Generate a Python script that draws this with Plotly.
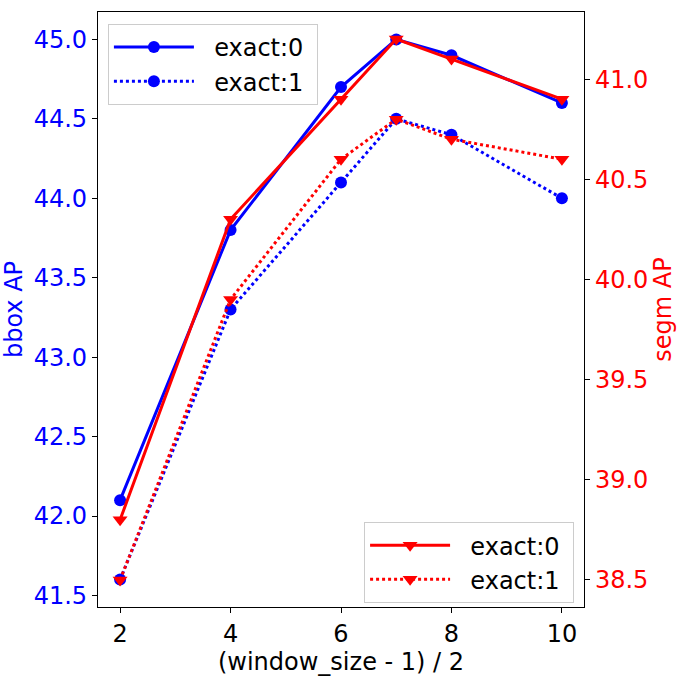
import plotly.graph_objects as go

x_vals = [2, 4, 6, 7, 8, 10]
bbox_exact0 = [42.1, 43.8, 44.7, 45.0, 44.9, 44.6]
bbox_exact1 = [41.6, 43.3, 44.1, 44.5, 44.4, 44.0]
segm_exact0 = [38.8, 40.3, 40.9, 41.2, 41.1, 40.9]
segm_exact1 = [38.5, 39.9, 40.6, 40.8, 40.7, 40.6]

series_names = ["exact:0", "exact:1"]
left_ticks = [41.5, 42.0, 42.5, 43.0, 43.5, 44.0, 44.5, 45.0]
right_ticks = [38.5, 39.0, 39.5, 40.0, 40.5, 41.0]
x_ticks = [2, 4, 6, 8, 10]

FONT = "DejaVu Sans"
FS = 24
PAD = "\u00a0\u00a0"


def label(n):
    return PAD + n + "\u00a0"


fig = go.Figure()
fig.add_trace(go.Scatter(x=x_vals, y=bbox_exact0, name=label(series_names[0]), mode="lines+markers",
                         line=dict(color="blue", width=3),
                         marker=dict(symbol="circle", size=12, color="blue"),
                         legend="legend", yaxis="y"))
fig.add_trace(go.Scatter(x=x_vals, y=bbox_exact1, name=label(series_names[1]), mode="lines+markers",
                         line=dict(color="blue", width=3, dash="dot"),
                         marker=dict(symbol="circle", size=12, color="blue"),
                         legend="legend", yaxis="y"))
fig.add_trace(go.Scatter(x=x_vals, y=segm_exact0, name=label(series_names[0]), mode="lines+markers",
                         line=dict(color="red", width=3),
                         marker=dict(symbol="triangle-down", size=13, color="red"),
                         legend="legend2", yaxis="y2"))
fig.add_trace(go.Scatter(x=x_vals, y=segm_exact1, name=label(series_names[1]), mode="lines+markers",
                         line=dict(color="red", width=3, dash="dot"),
                         marker=dict(symbol="triangle-down", size=13, color="red"),
                         legend="legend2", yaxis="y2"))

fig.update_layout(
    width=682, height=682,
    margin=dict(l=96, r=95, t=11, b=67),
    paper_bgcolor="white", plot_bgcolor="white",
    font=dict(family=FONT, size=FS, color="black"),
    xaxis=dict(range=[1.6, 10.4], tickvals=x_ticks, ticks="outside", ticklen=5,
               tickcolor="black", showline=True, linecolor="black", linewidth=1.2,
               mirror=True, showgrid=False, zeroline=False,
               title=dict(text="(window_size - 1) / 2", font=dict(size=FS, color="black"), standoff=6),
               tickfont=dict(size=FS, color="black")),
    yaxis=dict(range=[41.4275, 45.1725], tickvals=left_ticks, ticktext=[f"{v:.1f}" for v in left_ticks],
               ticks="outside", ticklen=5, tickcolor="black", showline=True, linecolor="black",
               linewidth=1.2, showgrid=False, zeroline=False,
               title=dict(text="bbox AP", font=dict(size=FS, color="blue"), standoff=6),
               tickfont=dict(size=FS, color="blue")),
    yaxis2=dict(range=[38.365, 41.335], tickvals=right_ticks, ticktext=[f"{v:.1f}" for v in right_ticks],
                overlaying="y", side="right",
                ticks="outside", ticklen=5, tickcolor="black", showline=True, linecolor="black",
                linewidth=1.2, showgrid=False, zeroline=False,
                title=dict(text="segm AP", font=dict(size=FS, color="red"), standoff=6),
                tickfont=dict(size=FS, color="red")),
    legend=dict(x=0.0204, y=0.98, xanchor="left", yanchor="top",
                bgcolor="rgba(255,255,255,0.8)", bordercolor="#cccccc", borderwidth=1,
                font=dict(size=FS, color="black"), itemwidth=80),
    legend2=dict(x=0.9796, y=0.0066, xanchor="right", yanchor="bottom",
                 bgcolor="rgba(255,255,255,0.8)", bordercolor="#cccccc", borderwidth=1,
                 font=dict(size=FS, color="black"), itemwidth=80),
)

fig.write_html("out.html", config={"displayModeBar": False},
               post_script="document.body.style.margin='0px';")
